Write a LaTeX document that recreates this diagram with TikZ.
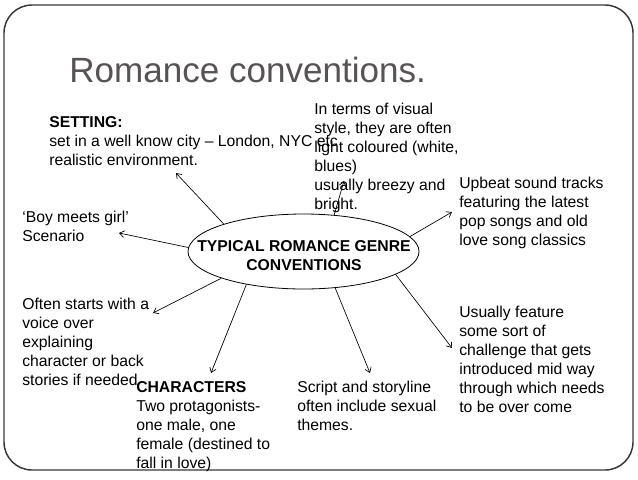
\documentclass[tikz,border=0pt]{standalone}
\usepackage{fontspec}
\setmainfont{Liberation Sans}
\usetikzlibrary{arrows.meta}
\usetikzlibrary{shapes.geometric}
\definecolor{titlegray}{RGB}{88,83,83}
\definecolor{framegray}{RGB}{55,55,55}
\newcommand{\bodysize}{\fontsize{11.8}{14.2}\selectfont}

\begin{document}
\begin{tikzpicture}[x=0.75pt,y=-0.75pt,
  txt/.style={anchor=base west,align=left,inner sep=0pt,font=\bodysize},
  conn/.style={-{Straight Barb[length=3.5pt,width=5pt]},line width=0.5pt}]
\useasboundingbox (0,0) rectangle (638,479);
\draw[framegray,line width=1.1pt,rounded corners=21pt] (4,5) rectangle (633,470);
\node[anchor=base west,inner sep=0pt,text=titlegray,
  font=\fontsize{26.3}{30}\selectfont] (title) at (69,82.5) {Romance conventions.};
% centre
\node[ellipse,draw,line width=0.6pt,minimum width=173.25pt,minimum height=56.25pt,
  inner sep=0pt] (ell) at (303.5,251.5) {};
\node[align=center,inner sep=0pt,font=\bodysize\bfseries] (ellt) at (304,256)
  {TYPICAL ROMANCE GENRE\\CONVENTIONS};
% text blocks (placed at the baseline of their last line)
\node[txt] (setting) at (49,165) {\textbf{SETTING:}\\set in a well know city – London, NYC etc\\realistic environment.};
\node[txt] (visual) at (314,209) {In terms of visual\\style, they are often\\light coloured (white,\\blues)\\usually breezy and\\bright.};
\node[txt] (upbeat) at (459,245.5) {Upbeat sound tracks\\featuring the latest\\pop songs and old\\love song classics};
\node[txt] (boy) at (22,241) {‘Boy meets girl’\\Scenario};
\node[txt] (often) at (22,385) {Often starts with a\\voice over\\explaining\\character or back\\stories if needed};
\node[txt] (chars) at (136,468) {\textbf{CHARACTERS}\\Two protagonists-\\one male, one\\female (destined to\\fall in love)};
\node[txt] (script) at (297,430) {Script and storyline\\often include sexual\\themes.};
\node[txt] (usually) at (459,412) {Usually feature\\some sort of\\challenge that gets\\introduced mid way\\through which needs\\to be over come};
% arrow ends
\coordinate (e1) at (176,173);
\coordinate (e2) at (119,233);
\coordinate (e3) at (344,181);
\coordinate (e4) at (452,212);
\coordinate (e5) at (153,313);
\coordinate (e6) at (211,373);
\coordinate (e7) at (370,373);
\coordinate (e8) at (452,348);
\draw[conn] (ell.161) -- (e1);
\draw[conn] (ell.178) -- (e2);
\draw[conn] (ell.50) -- (e3);
\draw[conn] (ell.8) -- (e4);
\draw[conn] (ell.198) -- (e5);
\draw[conn] (ell.210) -- (e6);
\draw[conn] (ell.311) -- (e7);
\draw[conn] (ell.346) -- (e8);
\end{tikzpicture}
\end{document}
